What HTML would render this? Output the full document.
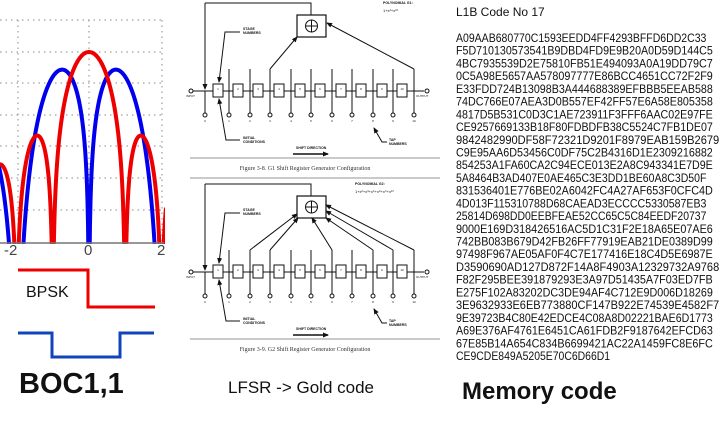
<!DOCTYPE html>
<html><head><meta charset="utf-8"><style>
html,body{margin:0;padding:0;background:#fff;}
body{width:720px;height:424px;overflow:hidden;position:relative;font-family:"Liberation Sans",sans-serif;}
</style></head><body>
<svg id="s" width="720" height="424" viewBox="0 0 720 424" style="position:absolute;left:0;top:0">
<defs>
<marker id="ar" markerWidth="6" markerHeight="6" refX="5" refY="3" orient="auto" markerUnits="userSpaceOnUse"><path d="M0,0.5 L6,3 L0,5.5z" fill="#111"/></marker>
<clipPath id="pc"><rect x="0" y="18" width="165" height="226"/></clipPath>
</defs>
<g id="grid" stroke="#888" stroke-width="1" stroke-dasharray="1.5,4"></g>
<g clip-path="url(#pc)">
<path id="blue" fill="none" stroke="#0000ee" stroke-width="4"/>
<path id="red" fill="none" stroke="#ee0000" stroke-width="4"/>
</g>
<line x1="0" y1="243" x2="164" y2="243" stroke="#777" stroke-width="1.5"/>
<g font-size="15" fill="#444"><text x="4" y="255">-2</text><text x="84" y="255">0</text><text x="157" y="255">2</text></g>
<polyline points="18,270 88,270 88,307 155,307" fill="none" stroke="#ee0000" stroke-width="3"/>
<text x="26" y="297" font-size="16" fill="#111">BPSK</text>
<polyline points="18,333 52,333 52,357 120,357 120,333 154,333" fill="none" stroke="#1144bb" stroke-width="3"/>
<text x="19" y="393" font-size="29" font-weight="bold" fill="#111">BOC1,1</text>
<g id="diag"></g>
<text x="228" y="393" font-size="17" fill="#111">LFSR -&gt; Gold code</text>
<text x="462" y="399" font-size="24" font-weight="bold" fill="#111">Memory code</text>
<text x="456" y="16" font-size="12" fill="#111">L1B Code No 17</text>
<g id="hex" font-size="11.6" fill="#111">
<text y="42">A09AAB680770C1593EEDD4FF4293BFFD6DD2C33</text>
<text>F5D710130573541B9DBD4FD9E9B20A0D59D144C5</text>
<text>4BC7935539D2E75810FB51E494093A0A19DD79C7</text>
<text>0C5A98E5657AA578097777E86BCC4651CC72F2F9</text>
<text>E33FDD724B13098B3A444688389EFBBB5EEAB588</text>
<text>74DC766E07AEA3D0B557EF42FF57E6A58E805358</text>
<text>4817D5B531C0D3C1AE723911F3FFF6AAC02E97FE</text>
<text>CE9257669133B18F80FDBDFB38C5524C7FB1DE07</text>
<text>9842482990DF58F72321D9201F8979EAB159B2679</text>
<text>C9E95AA6D53456C0DF75C2B4316D1E2309216882</text>
<text>854253A1FA60CA2C94ECE013E2A8C943341E7D9E</text>
<text>5A8464B3AD407E0AE465C3E3DD1BE60A8C3D50F</text>
<text>831536401E776BE02A6042FC4A27AF653F0CFC4D</text>
<text>4D013F115310788D68CAEAD3ECCCC5330587EB3</text>
<text>25814D698DD0EEBFEAE52CC65C5C84EEDF20737</text>
<text>9000E169D318426516AC5D1C31F2E18A65E07AE6</text>
<text>742BB083B679D42FB26FF77919EAB21DE0389D99</text>
<text>97498F967AE05AF0F4C7E177416E18C4D5E6987E</text>
<text>D3590690AD127D872F14A8F4903A12329732A9768</text>
<text>F82F295BEE391879293E3A97D51435A7F03ED7FB</text>
<text>E275F102A83202DC3DE94AF4C712E9D006D18269</text>
<text>3E9632933E6EB773880CF147B922E74539E4582F7</text>
<text>9E39723B4C80E42EDCE4C08A8D02221BAE6D1773</text>
<text>A69E376AF4761E6451CA61FDB2F9187642EFCD63</text>
<text>67E85B14A654C834B6699421AC22A1459FC8E6FC</text>
<text>CE9CDE849A5205E70C6D66D1</text>
</g>
</svg>
<script>
var NS="http://www.w3.org/2000/svg";
function el(p,t,a,txt){var e=document.createElementNS(NS,t);for(var k in a)e.setAttribute(k,a[k]);if(txt)e.textContent=txt;p.appendChild(e);return e;}
var hx=document.getElementById('hex').getElementsByTagName('text');
for(var i=0;i<hx.length;i++){hx[i].setAttribute('x',456);hx[i].setAttribute('y',(42+i*12.72).toFixed(2));
 var n=hx[i].textContent.length;hx[i].setAttribute('textLength',(n*6.42).toFixed(1));hx[i].setAttribute('lengthAdjust','spacingAndGlyphs');}
var g=document.getElementById('grid');
[20,52,83,115,146,178,210].forEach(function(y){el(g,'line',{x1:0,y1:y,x2:163,y2:y});});
[18,89,162].forEach(function(x){el(g,'line',{x1:x,y1:20,x2:x,y2:243});});
function dB(P){return 10*Math.log10(Math.max(P,1e-9));}
var r="",b="";
for(var px=-2;px<=166;px+=0.5){var f=(px-89)/36.2;var s=Math.abs(f)<1e-6?1:Math.sin(Math.PI*f)/(Math.PI*f);
var pr=s*s;var yb;var sb=Math.abs(f)<1e-6?0:2*Math.pow(Math.sin(Math.PI*f/2),2)/(Math.PI*f);var pb=sb*sb;
var yr=Math.min(260,52-6.3*dB(pr));yb=Math.min(260,52-6.3*dB(pb));
r+=(r?"L":"M")+px.toFixed(1)+","+yr.toFixed(1);b+=(b?"L":"M")+px.toFixed(1)+","+yb.toFixed(1);}
document.getElementById('red').setAttribute('d',r);document.getElementById('blue').setAttribute('d',b);
var D=document.getElementById('diag');
var boxes=[213,233,253,274,295,315,336,356,377,397];
var taps=[205,229,250,270,291,311,332,352,373,393,414];
function reg(o,conn,fig,poly,polyx){
 var L={stroke:"#111","stroke-width":1,fill:"none"};
 el(D,'polyline',Object.assign({points:"205,"+(o+3)+" 311,"+(o+3)+" 311,"+(o+15)},L));
 el(D,'line',Object.assign({x1:205,y1:o+3,x2:205,y2:o+89,"marker-end":"url(#ar)"},L));
 el(D,'rect',{x:297,y:o+15,width:29,height:22,fill:"#fff",stroke:"#111","stroke-width":1.2});
 el(D,'circle',{cx:311.5,cy:o+26,r:6,fill:"none",stroke:"#111","stroke-width":1});
 el(D,'line',Object.assign({x1:305.5,y1:o+26,x2:317.5,y2:o+26},L));
 el(D,'line',Object.assign({x1:311.5,y1:o+20,x2:311.5,y2:o+32},L));
 el(D,'line',Object.assign({x1:193,y1:o+91,x2:424,y2:o+91},L));
 el(D,'circle',{cx:191,cy:o+91,r:2,fill:"#fff",stroke:"#111"});
 el(D,'circle',{cx:427,cy:o+91,r:2,fill:"#fff",stroke:"#111"});
 el(D,'text',{x:186,y:o+97,"font-size":3,fill:"#111"},"INPUT");
 el(D,'text',{x:416,y:o+97,"font-size":3,fill:"#111"},"OUTPUT");
 boxes.forEach(function(x,i){el(D,'rect',{x:x,y:o+84,width:10,height:13,fill:"#fff",stroke:"#111","stroke-width":1});
  el(D,'text',{x:x+5,y:o+90,"font-size":3,"text-anchor":"middle",fill:"#111"},String(i+1));});
 taps.forEach(function(x,i){var top=(i==0)?o+91:o+69;el(D,'line',Object.assign({x1:x,y1:top,x2:x,y2:o+113},L));
  el(D,'circle',{cx:x,cy:o+115,r:2,fill:"#fff",stroke:"#111"});
  el(D,'text',{x:x,y:o+122,"font-size":3,"text-anchor":"middle",fill:"#111"},String(i));});
 conn.forEach(function(t,j){var x=taps[t];var e=conn.length==2?(j==0?[297,o+37]:[327,o+23]):[[297,o+33],[298,o+37],[312,o+37],[326,o+37],[326,o+30],[326,o+24]][j];
  el(D,'line',Object.assign({x1:x,y1:o+69,x2:e[0],y2:e[1],"marker-end":"url(#ar)"},L));});
 el(D,'text',{x:243,y:o+30,"font-size":3.5,"font-weight":"bold",fill:"#111"},"STAGE");
 el(D,'text',{x:243,y:o+34,"font-size":3.5,"font-weight":"bold",fill:"#111"},"NUMBERS");
 el(D,'polyline',Object.assign({points:"240,"+(o+32)+" 225,"+(o+32)+" 219,"+(o+82),"marker-end":"url(#ar)"},L));
 el(D,'text',{x:243,y:o+139,"font-size":3.5,"font-weight":"bold",fill:"#111"},"INITIAL");
 el(D,'text',{x:243,y:o+143,"font-size":3.5,"font-weight":"bold",fill:"#111"},"CONDITIONS");
 el(D,'polyline',Object.assign({points:"240,"+(o+140)+" 226,"+(o+140)+" 219,"+(o+99),"marker-end":"url(#ar)"},L));
 el(D,'text',{x:389,y:o+141,"font-size":3.5,"font-weight":"bold",fill:"#111"},"TAP");
 el(D,'text',{x:389,y:o+145,"font-size":3.5,"font-weight":"bold",fill:"#111"},"NUMBERS");
 el(D,'polyline',Object.assign({points:"387,"+(o+142)+" 382,"+(o+142)+" 374,"+(o+128),"marker-end":"url(#ar)"},L));
 el(D,'text',{x:296,y:o+149,"font-size":3.5,"font-weight":"bold",fill:"#111"},"SHIFT DIRECTION");
 el(D,'line',{x1:293,y1:o+154,x2:328,y2:o+154,stroke:"#111","stroke-width":1.5,"marker-end":"url(#ar)"});
 el(D,'line',{x1:190,y1:o+158,x2:440,y2:o+158,stroke:"#aaa","stroke-width":1.2});
 el(D,'text',{x:305,y:o+170,"font-size":6,"text-anchor":"middle",fill:"#333","font-family":"Liberation Serif"},fig);
 el(D,'text',{x:polyx,y:o+4,"font-size":3.5,"font-weight":"bold",fill:"#111"},poly);
 el(D,'text',{x:polyx,y:o+12,"font-size":4,fill:"#111"},o==0?"1+x\u00B3+x\u00B9\u2070":"1+x\u00B2+x\u00B3+x\u2076+x\u2078+x\u2079+x\u00B9\u2070");
}
reg(0,[3,10],"Figure 3-8.    G1 Shift Register Generator Configuration","POLYNOMIAL G1:",383);
el(D,'line',{x1:190,y1:178,x2:440,y2:178,stroke:"#aaa","stroke-width":1.2});
reg(181,[2,3,6,8,9,10],"Figure 3-9.    G2 Shift Register Generator Configuration","POLYNOMIAL G2:",355);
</script>
</body></html>
